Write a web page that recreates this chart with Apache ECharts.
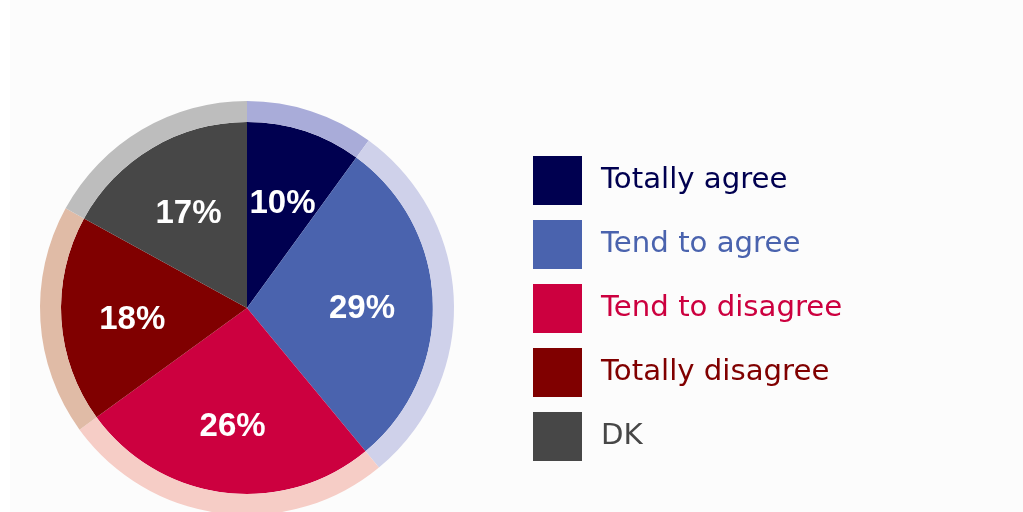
<!DOCTYPE html>
<html>
<head>
<meta charset="utf-8">
<title>Survey responses</title>
<script src="https://cdn.jsdelivr.net/npm/echarts@6/dist/echarts.min.js"></script>
<style>
  html, body { margin: 0; padding: 0; background: #ffffff; }
  #chart { width: 1023px; height: 512px; }
</style>
</head>
<body>
<div id="chart"></div>
<script>
// Response categories and their shares (%)
const categories = ['Totally agree', 'Tend to agree', 'Tend to disagree', 'Totally disagree', 'DK'];
const shares = [10, 29, 26, 18, 17];

// Solid slice colours and the lighter tints used for the outer rim
const sliceColors = ['#000050', '#4a63ae', '#cc003f', '#800000', '#474747'];
const rimColors = ['#a9acd9', '#cfd1ea', '#f6cdc6', '#e0bba6', '#bdbdbd'];

const center = [247, 308];

const chart = echarts.init(document.getElementById('chart'), null, { renderer: 'canvas' });

const sliceData = categories.map((name, i) => ({
  name, value: shares[i], itemStyle: { color: sliceColors[i] }
}));
const rimData = categories.map((name, i) => ({
  name, value: shares[i], itemStyle: { color: rimColors[i] }
}));

chart.setOption({
  backgroundColor: '#fcfcfc',
  animation: false,
  graphic: [{
    type: 'rect', left: 0, top: 0, z: -1,
    shape: { width: 10, height: 512 },
    style: { fill: '#ffffff' }
  }],
  legend: {
    orient: 'vertical',
    left: 533,
    top: 156,
    padding: 0,
    itemWidth: 49,
    itemHeight: 49,
    itemGap: 15,
    icon: 'rect',
    selectedMode: false,
    textStyle: {
      fontFamily: 'DejaVu Sans',
      fontSize: 29.2,
      padding: [0, 0, 0, 14]
    },
    data: categories.map((name, i) => ({
      name,
      itemStyle: { color: sliceColors[i] },
      textStyle: { color: sliceColors[i] }
    }))
  },
  series: [
    {
      // main pie
      type: 'pie',
      center,
      radius: [0, 186],
      startAngle: 90,
      clockwise: true,
      silent: true,
      label: { show: false },
      labelLine: { show: false },
      itemStyle: { borderWidth: 0 },
      emphasis: { disabled: true },
      data: sliceData
    },
    {
      // pale rim around the pie
      type: 'pie',
      center,
      radius: [186, 207],
      startAngle: 90,
      clockwise: true,
      silent: true,
      label: { show: false },
      labelLine: { show: false },
      itemStyle: { borderWidth: 0 },
      emphasis: { disabled: true },
      data: rimData
    },
    {
      // percentage labels, placed part-way out along each slice
      type: 'pie',
      center,
      radius: [38, 186],
      startAngle: 90,
      clockwise: true,
      silent: true,
      itemStyle: { color: 'rgba(0,0,0,0)', borderWidth: 0 },
      emphasis: { disabled: true },
      labelLine: { show: false },
      label: {
        show: true,
        position: 'inside',
        formatter: '{c}%',
        color: '#ffffff',
        fontFamily: 'Liberation Sans',
        fontWeight: 'bold',
        fontSize: 33,
        offset: [0, 5]
      },
      data: categories.map((name, i) => ({ name: name + ' ', value: shares[i] }))
    }
  ]
});
</script>
</body>
</html>
